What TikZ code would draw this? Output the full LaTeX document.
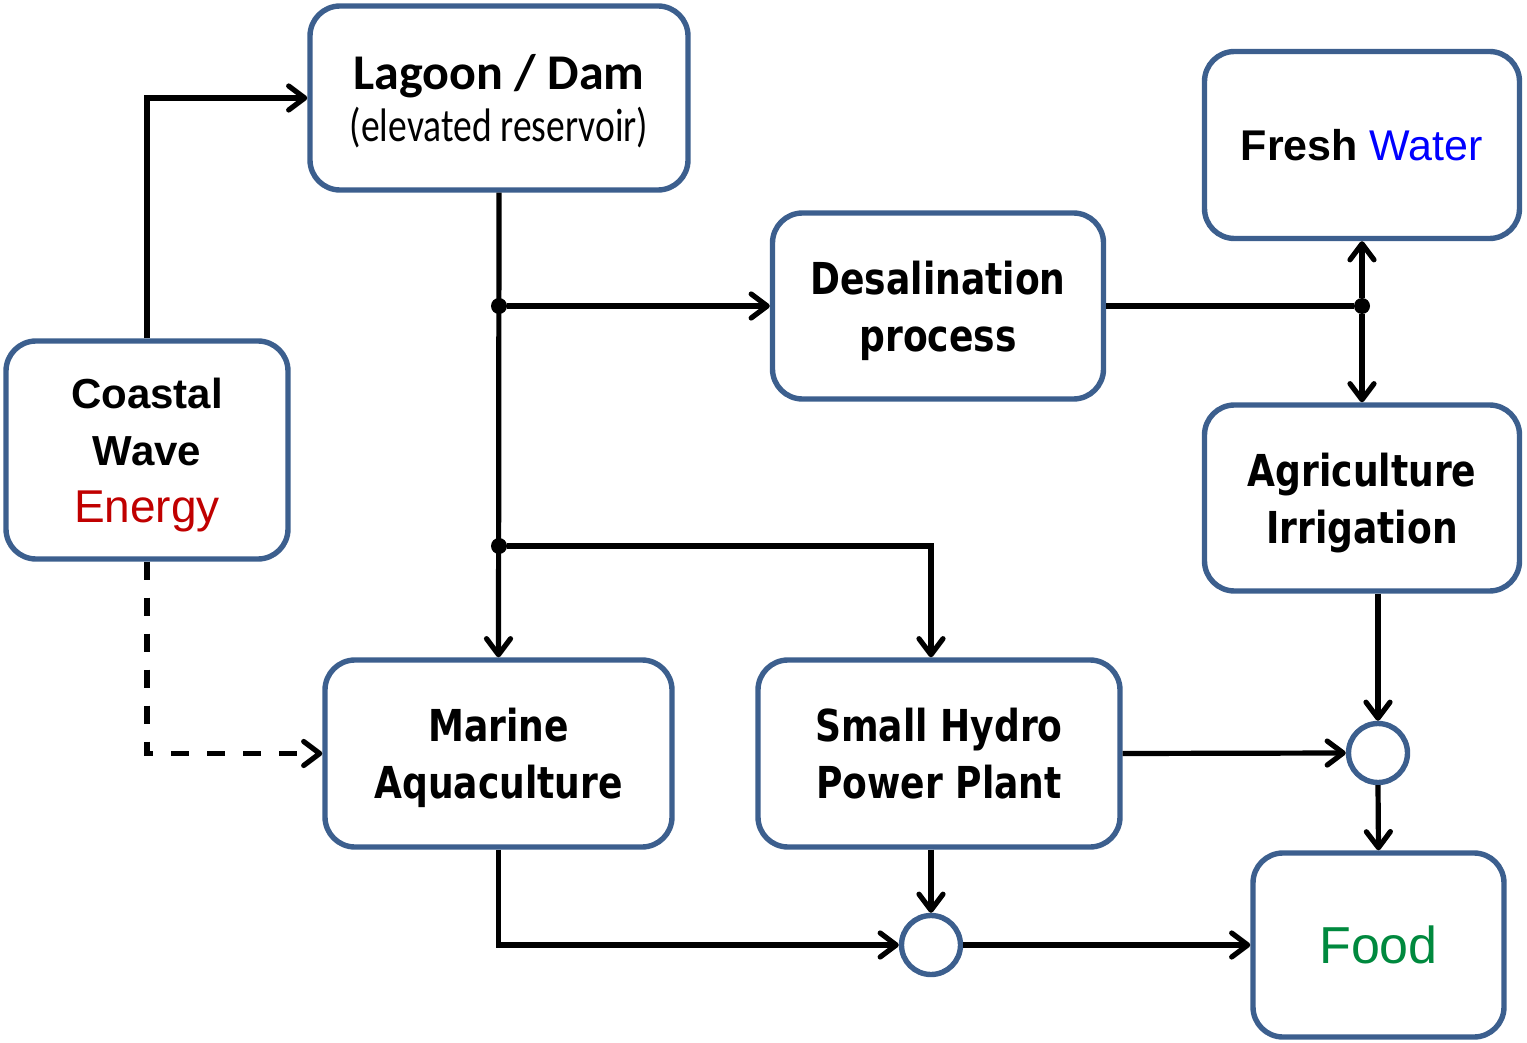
\documentclass[tikz,border=0pt]{standalone}
\usepackage{fontspec}
\setmainfont{Liberation Sans}
\newfontfamily\calibrifont{Carlito}
\newfontfamily\calibrinarrow[FakeStretch=0.8]{Carlito}
\newfontfamily\tahomafont[FakeStretch=0.82]{DejaVu Sans}
\usetikzlibrary{positioning,arrows.meta}
\definecolor{boxblue}{HTML}{3C5F8E}
\definecolor{energyred}{HTML}{C00000}
\definecolor{waterblue}{HTML}{0000FF}
\definecolor{foodgreen}{HTML}{00893E}
\tikzset{
  box/.style={draw=boxblue,line width=2.7pt,rounded corners=15pt,fill=white,align=center,inner sep=0pt,text depth=-2.5pt},
  tahbox/.style={box,font=\tahomafont\bfseries\fontsize{22}{28.5}\selectfont},
  sum/.style={circle,draw=boxblue,line width=2.7pt,minimum size=29.5pt,inner sep=0pt},
  dot/.style={circle,fill=black,minimum size=8pt,inner sep=0pt},
  flow/.style={black,line width=2.6pt,->},
}

\begin{document}
\begin{tikzpicture}[x=0.5pt,y=-0.5pt,>={Straight Barb[length=8pt,width=12pt,round]}]
\useasboundingbox (0,0) rectangle (1527,1043);
%%
\node (lagoon) at (499,98) [box,minimum width=189pt,minimum height=92pt,font=\fontsize{25}{26}\selectfont] {{\calibrifont\bfseries Lagoon / Dam}\\{\calibrinarrow\fontsize{23.5}{26}\selectfont (elevated reservoir)}};
  \node (coastal) at (147,450) [box,minimum width=141pt,minimum height=109pt,font=\bfseries\fontsize{21}{28.5}\selectfont] {Coastal\\Wave\\{\mdseries\color{energyred}\fontsize{23}{28.5}\selectfont Energy}};
  \node (desal) at (938,306) [tahbox,minimum width=165.5pt,minimum height=93pt] {Desalination\\process};
  \node (fresh) at (1362,145) [box,minimum width=157.5pt,minimum height=93.5pt,font=\fontsize{21.5}{26}\selectfont] {{\bfseries Fresh} \textcolor{waterblue}{Water}};
  \node (agri) at (1362,498) [tahbox,minimum width=157.5pt,minimum height=93pt] {Agriculture\\Irrigation};
  \node (marine) at (498.5,753.5) [tahbox,minimum width=173.5pt,minimum height=93.5pt] {Marine\\Aquaculture};
  \node (hydro) at (939,753.5) [tahbox,minimum width=181pt,minimum height=93.5pt] {Small Hydro\\Power Plant};
  \node (food) at (1378.5,945) [box,minimum width=125.5pt,minimum height=92pt,font=\fontsize{26}{30}\selectfont,text=foodgreen] {Food};
  \node (sum1) at (931,945) [sum] {};
  \node (sum2) at (1378,753) [sum] {};
  \node (j1) at (499,306) [dot] {};
  \node (j2) at (499,546) [dot] {};
  \node (j3) at (1362,306) [dot] {};
  \draw [flow] (coastal.north) |- (lagoon.west);
  \draw [flow,dash pattern=on 9pt off 9pt] (coastal.south) |- (marine.west);
  \draw [flow] (lagoon.south) -- (marine.north);
  \draw [flow] (j1) -- (desal.west);
  \draw [flow] (j2) -| ([xshift=-4pt]hydro.north);
  \draw [flow,-] (desal.east) -- (j3);
  \draw [flow] (j3) -- (fresh.south);
  \draw [flow] (j3) -- (agri.north);
  \draw [flow] (agri.south -| sum2) -- (sum2.north);
  \draw [flow] (hydro.east) -- (sum2.west);
  \draw [flow] (sum2.south) -- (food.north);
  \draw [flow] (marine.south) |- (sum1.west);
  \draw [flow] (hydro.south -| sum1) -- (sum1.north);
  \draw [flow] (sum1.east) -- (food.west);
%
\end{tikzpicture}
\end{document}
